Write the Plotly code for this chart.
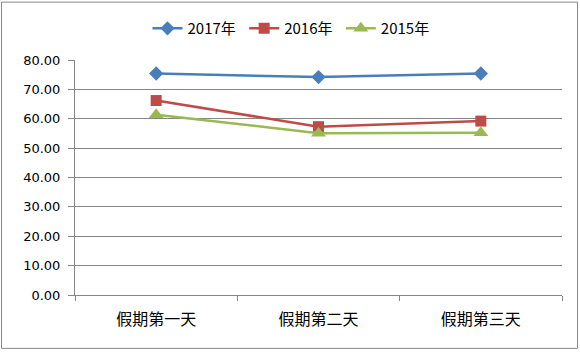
import plotly.graph_objects as go

categories = ["假期第一天", "假期第二天", "假期第三天"]
s2017 = [75.4, 74.2, 75.4]
s2016 = [66.2, 57.3, 59.2]
s2015 = [61.4, 55.1, 55.2]
series_names = ["2017年", "2016年", "2015年"]
y_ticks = [0, 10, 20, 30, 40, 50, 60, 70, 80]

colors = ["#4A7EBB", "#BE4B48", "#98B954"]
symbols = ["diamond", "square", "triangle-up"]
sizes = [11, 11, 13]

fig = go.Figure()
for name, vals, c, s, sz in zip(series_names, [s2017, s2016, s2015], colors, symbols, sizes):
    fig.add_trace(go.Scatter(
        x=categories, y=vals, name=name + " ", mode="lines+markers",
        line=dict(color=c, width=2.5),
        marker=dict(symbol=s, size=sz, color=c),
    ))

L, R, T, B = 75, 18, 59.5, 57
W, H = 580, 352
pw, ph = W - L - R, H - T - B

def px(x):
    return (x - L) / pw

def py(y):
    return (H - B - y) / ph

fig.update_layout(
    width=W, height=H,
    margin=dict(l=L, r=R, t=T, b=B, pad=0),
    paper_bgcolor="white", plot_bgcolor="white",
    font=dict(family="DejaVu Sans", size=12, color="#000"),
    legend=dict(orientation="h", x=px(293), xanchor="center", y=py(28), yanchor="middle",
                font=dict(family="Noto Sans CJK SC", size=15), itemwidth=30,
                bgcolor="rgba(0,0,0,0)", tracegroupgap=0),
    showlegend=True,
    shapes=[dict(type="rect", xref="paper", yref="paper",
                 x0=px(1.5), x1=px(577.5), y0=py(348.5), y1=py(1.5),
                 line=dict(color="#888888", width=1), layer="below")],
)
fig.update_xaxes(
    type="category", range=[-0.5, 2.5],
    showline=True, linecolor="#868686", linewidth=1,
    ticks="outside", tickson="boundaries", ticklen=5, tickcolor="#868686",
    showgrid=False, tickfont=dict(family="Noto Sans CJK SC", size=16),
    ticklabelstandoff=10,
)
fig.update_yaxes(
    range=[0, 80], tickvals=y_ticks, tickformat=".2f",
    showline=True, linecolor="#868686", linewidth=1,
    ticks="outside", ticklen=6, tickcolor="#868686",
    showgrid=True, gridcolor="#868686", gridwidth=1, zeroline=False,
    tickfont=dict(family="DejaVu Sans", size=13), ticklabelstandoff=5,
)
fig.write_html("out.html")
